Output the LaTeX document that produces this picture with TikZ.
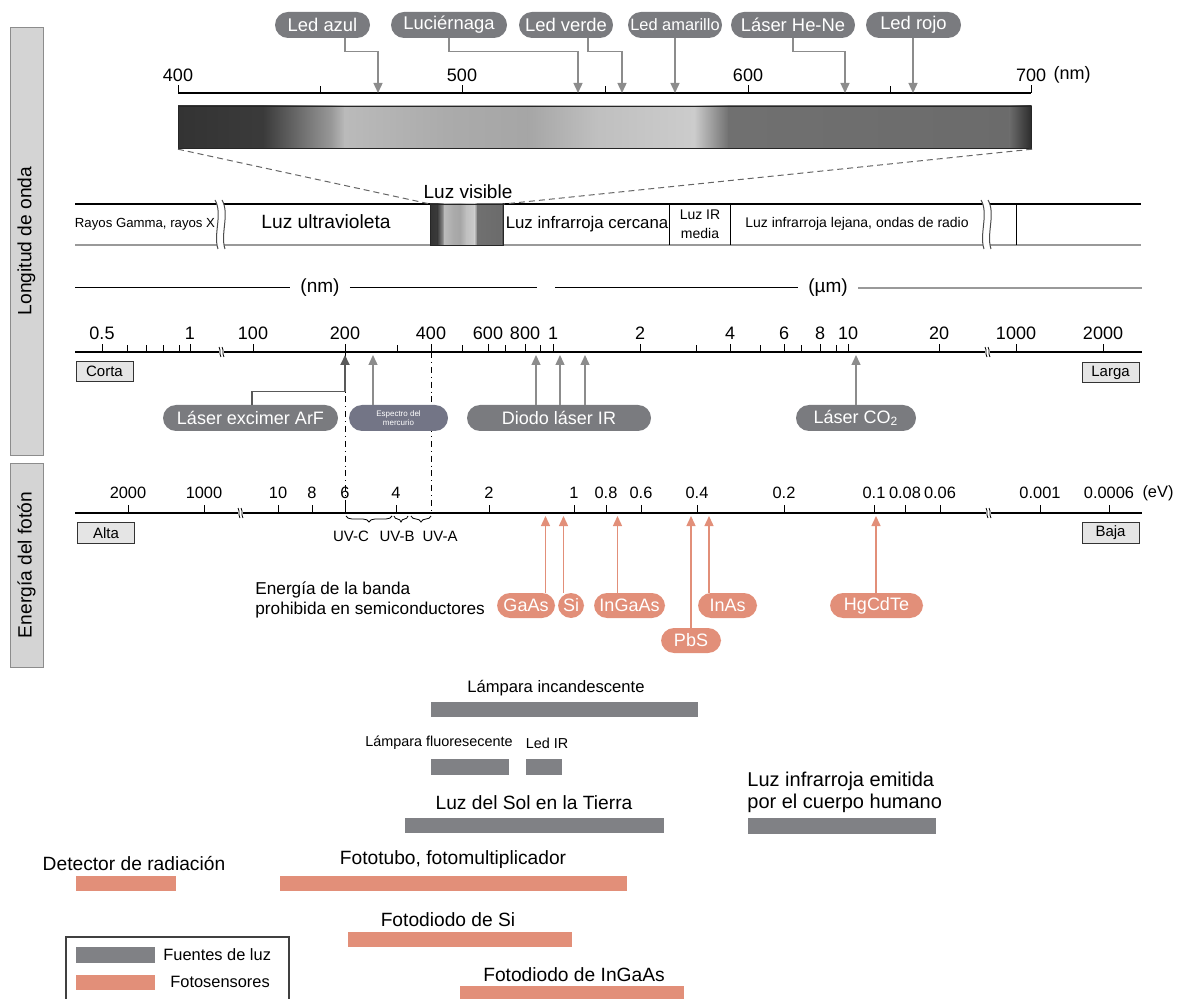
\documentclass[tikz,border=0pt]{standalone}
\usepackage{fontspec}
\setmainfont{Liberation Sans}
\usetikzlibrary{arrows.meta,calc,decorations.pathreplacing}

\definecolor{pillgray}{RGB}{122,123,127}
\definecolor{hggray}{RGB}{115,117,134}
\definecolor{sensorcol}{RGB}{226,143,121}
\definecolor{srcgray}{RGB}{128,129,133}
\definecolor{arrowgray}{RGB}{140,140,140}
\definecolor{sidefill}{RGB}{212,212,212}

\newcommand{\fsz}[2]{\fontsize{#1pt}{#2pt}\selectfont}

% gray spectrum: {x0}{x1}{y0}{y1}
\def\specfill#1#2#3#4{
  \foreach \a/\b/\ca/\cb in {0/0.10/black!80/black!77, 0.10/0.18/black!77/black!40,
      0.18/0.195/black!40/black!27, 0.195/0.315/black!27/black!33, 0.315/0.41/black!33/black!35,
      0.41/0.49/black!35/black!25, 0.49/0.605/black!25/black!20, 0.605/0.645/black!20/black!56,
      0.645/0.975/black!56/black!58, 0.975/1/black!58/black!83}
    \shade[left color=\ca, right color=\cb] ({#1+\a*(#2-#1)},#3) rectangle ({#1+\b*(#2-#1)+0.6},#4);
}
% wavy cut in the band: {x}
\def\bandbreak#1{
  \fill[white] (#1-3,200) .. controls (#1+5,214) and (#1-5,234) .. (#1,249) -- (#1+7,249) .. controls (#1+2,234) and (#1+12,214) .. (#1+4,200) -- cycle;
  \draw[black!70, line width=0.5pt] (#1-3,200) .. controls (#1+5,214) and (#1-5,234) .. (#1,249);
  \draw[black!70, line width=0.5pt] (#1+4,200) .. controls (#1+12,214) and (#1+2,234) .. (#1+7,249);
}
% small cut on an axis: {x}{y}
\def\axbreak#1#2{
  \fill[white] (#1-2,#2-5) rectangle (#1+3,#2+5);
  \draw[line width=0.4pt] (#1-2,#2-5) .. controls (#1,#2-2) and (#1-2,#2+2) .. (#1,#2+5);
  \draw[line width=0.4pt] (#1+1,#2-5) .. controls (#1+3,#2-2) and (#1+1,#2+2) .. (#1+3,#2+5);
}

\tikzset{
  pill/.style={rounded corners=6.5pt, fill=pillgray, text=white, minimum height=13pt, inner sep=1pt, font=\fsz{9.2}{10}},
  hotpill/.style={pill, fill=sensorcol, minimum height=12.5pt, font=\fsz{9}{10}},
  garrow/.style={draw=arrowgray, line width=0.7pt, -{Triangle[length=5pt,width=4.5pt]}},
  darrow/.style={garrow, draw=black!65, line width=0.9pt},
  oarrow/.style={garrow, draw=sensorcol},
  endbox/.style={draw=black!80, fill=black!10, line width=0.5pt, minimum width=28.5pt, minimum height=10pt, inner sep=0pt, font=\fsz{7.5}{8}},
  sidebox/.style={draw=black!45, fill=sidefill, rotate=90, inner sep=0pt, minimum height=16.5pt, font=\fsz{9.6}{10}},
  axnum/.style={inner sep=1pt, font=\fsz{9}{10}},
  evnum/.style={inner sep=1pt, font=\fsz{8.2}{10}},
  bandtxt/.style={inner sep=0pt},
  barlbl/.style={inner sep=0pt, font=\fsz{9.6}{11}},
  uvbrace/.style={decorate, decoration={brace, mirror, amplitude=3pt}, line width=0.4pt},
}

\begin{document}
\begin{tikzpicture}[x=0.5pt, y=-0.5pt, font=\fsz{9.5}{10}]
\useasboundingbox (0,0) rectangle (1177,999);

\node[sidebox, minimum width=214pt] (wavebox) at (26.5,241) {Longitud de onda};
\node[sidebox, minimum width=102pt] (evbox) at (26.5,565) {Energía del fotón};

% visible scale
\draw[line width=0.7pt] (178,93) -- (1031,93);
\foreach \x/\t in {178/400, 462/500, 748/600, 1031/700}{
  \draw[line width=0.5pt] (\x,93) -- (\x,85);
  \node[axnum] (top\t) at (\x,75) {\t};
}
\foreach \x in {320,605,890} \draw[line width=0.5pt] (\x,93) -- (\x,86);
\node[axnum] (topunit) at (1072,75) {(nm)};

\coordinate (tAzul) at (378,93);
\coordinate (tLuci) at (578,93);
\coordinate (tVerde) at (622,93);
\coordinate (tAmar) at (675,93);
\coordinate (tHeNe) at (845,93);
\coordinate (tRojo) at (913,93);

\node[pill, minimum width=47.5pt] (ledazul) at (322.5,25) {Led azul};
\node[pill, minimum width=58pt] (luciernaga) at (449,25) {Luciérnaga};
\node[pill, minimum width=47pt] (ledverde) at (566,25) {Led verde};
\node[pill, minimum width=47pt, font=\fsz{8.2}{9}] (ledamarillo) at (675,25) {Led amarillo};
\node[pill, minimum width=62pt] (laserhene) at (793,25) {Láser He-Ne};
\node[pill, minimum width=47.5pt] (ledrojo) at (913.5,25) {Led rojo};

\draw[garrow] ($(ledazul.south)+(22.5,0)$) -- ++(0,13) -| (tAzul);
\draw[garrow] (luciernaga.south) -- ++(0,13) -| (tLuci);
\draw[garrow] ($(ledverde.south)+(22,0)$) -- ++(0,13) -| (tVerde);
\draw[garrow] (ledamarillo.south) -- (tAmar);
\draw[garrow] (laserhene.south) -- ++(0,13) -| (tHeNe);
\draw[garrow] (ledrojo.south -| tRojo) -- (tRojo);

\specfill{178}{1031}{106}{148}
\node[draw=black!85, line width=0.6pt, minimum width=426.5pt, minimum height=21pt, inner sep=0pt, anchor=north west] (specbar) at (178,106) {};

% band of ranges
\draw[line width=0.6pt] (75,204) -- (1141,204);
\draw[black!40, line width=1.3pt] (75,245) -- (1141,245);
\bandbreak{218}
\bandbreak{984}
\specfill{430}{503}{204}{245}
\node[draw=black!85, line width=0.5pt, minimum width=36.5pt, minimum height=20.5pt, inner sep=0pt, anchor=north west] (visblock) at (430,204) {};
\draw[line width=0.5pt] (669.5,204) -- (669.5,245) (730.5,204) -- (730.5,245) (1016,204) -- (1016,245);
\draw[densely dashed, black!60, line width=0.5pt] (specbar.south west) -- (visblock.north west) (specbar.south east) -- (visblock.north east);

\node[bandtxt, font=\fsz{9.5}{10}] (vislbl) at (468,192) {Luz visible};
\node[bandtxt, font=\fsz{6.6}{7}] (gamma) at (145,224) {Rayos Gamma, rayos X};
\node[bandtxt, font=\fsz{9.6}{10}] (uv) at (326,222) {Luz ultravioleta};
\node[bandtxt, font=\fsz{8.4}{9}] (nir) at (587,224) {Luz infrarroja cercana};
\node[bandtxt, font=\fsz{7}{9.5}, align=center] (mir) at (700,224) {Luz IR\\media};
\node[bandtxt, font=\fsz{7}{8}] (fir) at (857,224) {Luz infrarroja lejana, ondas de radio};

% units
\node[inner sep=5pt] (nmlbl) at (320,288) {(nm)};
\node[inner sep=5pt] (umlbl) at (828,288) {(µm)};
\draw[line width=0.5pt] (75,288) -- (nmlbl.west) (nmlbl.east) -- (537,288) (555,288) -- (umlbl.west);
\draw[black!40, line width=0.8pt] (umlbl.east) -- (1142,288);

% wavelength axis
\draw[line width=1pt] (75,352) -- (1142,352);
\foreach \x/\t in {102/0.5, 190/1, 253/100, 345/200, 431/400, 488/600, 525/800, 553/1, 640/2,
    730/4, 784/6, 820/8, 848/10, 939/20, 1016/1000, 1103/2000}{
  \draw[line width=0.5pt] (\x,352) -- (\x,344);
  \node[axnum] (wl\x) at (\x,333) {\t};
}
\foreach \x in {127,146,163,179,397,462,505,540,696,760,801,836}
  \draw[line width=0.5pt] (\x,352) -- (\x,345);
\axbreak{221}{352}
\axbreak{987}{352}
\node[endbox] (corta) at (104.5,371.5) {Corta};
\node[endbox] (larga) at (1110.5,372.5) {Larga};

% energy axis
\draw[line width=1pt] (75,513) -- (1142,513);
\foreach \x/\t in {128/2000, 204/1000, 278/10, 312/8, 345/6, 396/4, 489/2, 574/1, 606/0.8, 641/0.6,
    697/0.4, 784/0.2, 874/0.1, 905/0.08, 940/0.06, 1040/0.001, 1109/0.0006}{
  \draw[line width=0.5pt] (\x,513) -- (\x,505);
  \node[evnum] (ev\x) at (\x,493) {\t};
}
\node[evnum] (evunit) at (1158,493) {(eV)};
\axbreak{240}{513}
\axbreak{988}{513}
\node[endbox] (alta) at (106,533) {Alta};
\node[endbox] (baja) at (1110.5,533) {Baja};

\coordinate (wv200) at (345,352);
\coordinate (wv400) at (431,352);
\coordinate (en6) at (345,513);
\coordinate (en3) at (431,513);
\draw[dash dot, line width=0.5pt] (wv200) -- (en6) (wv400) -- (en3);

\draw[uvbrace] (346,516) -- (392,516);
\draw[uvbrace] (394,516) -- (408,516);
\draw[uvbrace] (411,516) -- (431,516);
\node[inner sep=0pt, font=\fsz{7.5}{8}] (uvc) at (351,536) {UV-C};
\node[inner sep=0pt, font=\fsz{7.5}{8}] (uvb) at (397,536) {UV-B};
\node[inner sep=0pt, font=\fsz{7.5}{8}] (uva) at (440,536) {UV-A};

% lasers below the wavelength axis
\coordinate (aArF) at (345,355);
\coordinate (aHg) at (373,355);
\coordinate (aIRa) at (536,355);
\coordinate (aIRb) at (560,355);
\coordinate (aIRc) at (585,355);
\coordinate (aCO) at (856,355);

\node[pill, minimum width=87.5pt, font=\fsz{9}{10}] (arf) at (250.5,418) {Láser excimer ArF};
\node[pill, fill=hggray, minimum width=49.5pt, font=\fsz{4}{4.3}, align=center] (hgpill) at (398.5,418) {Espectro del\\mercurio};
\node[pill, minimum width=92pt, font=\fsz{9}{10}] (irpill) at (559,418) {Diodo láser IR};
\node[pill, minimum width=60pt, font=\fsz{9}{10}] (co2pill) at (856,418) {Láser CO\textsubscript{2}};

\draw[darrow] ($(arf.north)+(1.5,0)$) -- ++(0,-13) -| (aArF);
\draw[garrow] (hgpill.north -| aHg) -- (aHg);
\draw[garrow] (irpill.north -| aIRa) -- (aIRa);
\draw[garrow] (irpill.north -| aIRb) -- (aIRb);
\draw[garrow] (irpill.north -| aIRc) -- (aIRc);
\draw[garrow] (co2pill.north) -- (aCO);

% band gaps
\coordinate (gGaAs) at (545.5,516);
\coordinate (gSi) at (563.5,516);
\coordinate (gInGaAs) at (617.5,516);
\coordinate (gPbS) at (691,516);
\coordinate (gInAs) at (709,516);
\coordinate (gHgCdTe) at (876,516);

\node[anchor=west, inner sep=0pt, align=left, font=\fsz{8.6}{10}] (gaplbl) at (255,600) {Energía de la banda\\prohibida en semiconductores};
\node[hotpill, minimum width=29pt] (gaas) at (526,605.5) {GaAs};
\node[hotpill, minimum width=13pt] (si) at (571,605.5) {Si};
\node[hotpill, minimum width=35.5pt] (ingaas) at (629.5,605.5) {InGaAs};
\node[hotpill, minimum width=30pt] (pbs) at (691,640.5) {PbS};
\node[hotpill, minimum width=29.5pt] (inas) at (727.5,605.5) {InAs};
\node[hotpill, minimum width=46.5pt] (hgcdte) at (876.5,605.5) {HgCdTe};

\draw[oarrow] (gaas.north -| gGaAs) -- (gGaAs);
\draw[oarrow] (si.north -| gSi) -- (gSi);
\draw[oarrow] (ingaas.north -| gInGaAs) -- (gInGaAs);
\draw[oarrow] (pbs.north) -- (gPbS);
\draw[oarrow] (inas.north -| gInAs) -- (gInAs);
\draw[oarrow] (hgcdte.north -| gHgCdTe) -- (gHgCdTe);

% sources and sensors
\fill[srcgray] (431,702) rectangle (698,717);
\node[barlbl, font=\fsz{8.3}{9}] (incand) at (556,688) {Lámpara incandescente};
\fill[srcgray] (431,759) rectangle (508.5,775);
\fill[srcgray] (525.5,759) rectangle (562,775);
\node[barlbl, font=\fsz{7.2}{8}] (fluor) at (439,743) {Lámpara fluoresecente};
\node[barlbl, font=\fsz{7.2}{8}] (ledir) at (547,743) {Led IR};
\fill[srcgray] (405,818) rectangle (664,833);
\node[barlbl] (sol) at (534,803) {Luz del Sol en la Tierra};
\fill[srcgray] (748,818) rectangle (936,834);
\node[barlbl, anchor=south west, align=left, font=\fsz{10}{11}] (cuerpo) at (747,813) {Luz infrarroja emitida\\por el cuerpo humano};

\fill[sensorcol] (76,876) rectangle (176,891);
\node[barlbl] (detector) at (134,864) {Detector de radiación};
\fill[sensorcol] (280,876) rectangle (627,891);
\node[barlbl] (fototubo) at (453,860) {Fototubo, fotomultiplicador};
\fill[sensorcol] (348,932) rectangle (571.5,947);
\node[barlbl] (fdsi) at (448,920) {Fotodiodo de Si};
\fill[sensorcol] (460,986) rectangle (684,1003);
\node[barlbl] (fdingaas) at (574,975) {Fotodiodo de InGaAs};

% legend
\draw[black!75, line width=0.6pt] (66,937) rectangle (289,1008);
\fill[srcgray] (76,947) rectangle (154.5,963);
\fill[sensorcol] (76,975) rectangle (154.5,990);
\node[anchor=west, inner sep=0pt, font=\fsz{8.2}{9}] (legsrc) at (163,955) {Fuentes de luz};
\node[anchor=west, inner sep=0pt, font=\fsz{8.2}{9}] (legsens) at (170,982) {Fotosensores};

\end{tikzpicture}
\end{document}
